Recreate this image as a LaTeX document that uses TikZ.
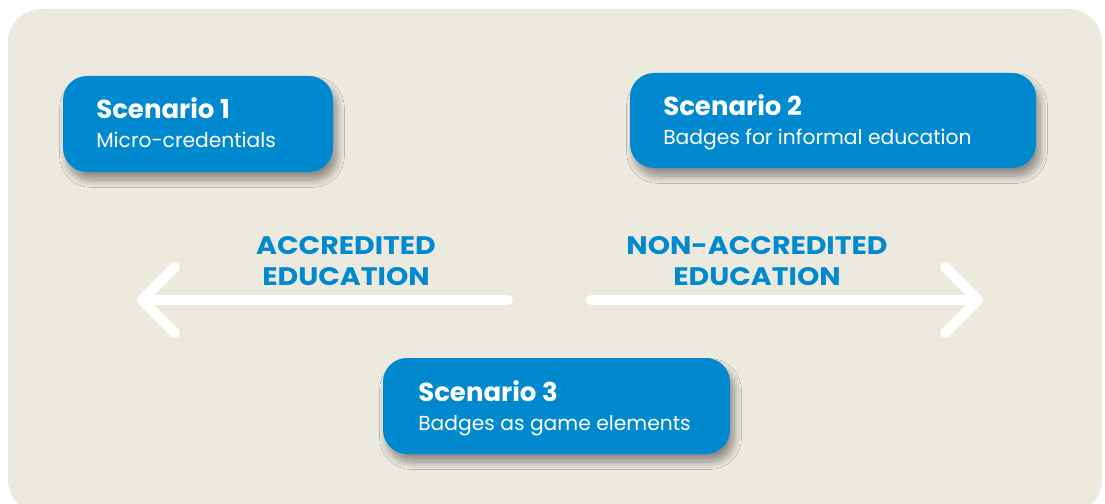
\documentclass[tikz,border=0pt]{standalone}
\usepackage{fontspec}
\setmainfont{Poppins}
\newfontfamily\edfont[FakeStretch=1.12]{Poppins}
\usetikzlibrary{shadows.blur}
\definecolor{panel}{RGB}{236,233,223}
\definecolor{sblue}{RGB}{0,137,207}
\begin{document}
\begin{tikzpicture}[x=0.75pt,y=-0.75pt,
  card/.style={fill=sblue, rounded corners=18, draw=none,
    blur shadow={shadow xshift=3pt, shadow yshift=-6pt, shadow blur steps=10,
      shadow opacity=40, shadow blur radius=5.5pt}},
  cardtitle/.style={anchor=base west, inner sep=0, text=white, font=\fontsize{19.5}{22}\selectfont\bfseries},
  cardsub/.style={anchor=base west, inner sep=0, text=white, font=\fontsize{15.2}{18}\selectfont},
  edlabel/.style={align=center, inner sep=0, text=sblue, font=\edfont\fontsize{19}{23.5}\selectfont\bfseries},
  whitearrow/.style={draw=white, line width=7.5pt, line cap=round, line join=round}]
  \useasboundingbox (0,0) rectangle (1105,503);
  \fill[white] (0,0) rectangle (1105,503);
  \clip (0,0) rectangle (1105,503);
  \fill[panel, rounded corners=25] (8,9) rectangle (1102,513);

  % scenario cards
  \path[card] (63,76) rectangle (333,172);
  \path[card] (630,73) rectangle (1036,168);
  \path[card] (383,358) rectangle (730,454);

  \node[cardtitle] (t1) at (96,118) {Scenario 1};
  \node[cardsub] (s1) at (96,147) {Micro-credentials};
  \node[cardtitle] (t2) at (663,115) {Scenario 2};
  \node[cardsub] (s2) at (663,144) {Badges for informal education};
  \node[cardtitle] (t3) at (418,401) {Scenario 3};
  \node[cardsub] (s3) at (418,430) {Badges as game elements};

  % direction labels
  \node[edlabel] (acc) at (346,261) {ACCREDITED\\EDUCATION};
  \node[edlabel] (nonacc) at (757,261) {NON-ACCREDITED\\EDUCATION};

  % arrows
  \coordinate (ltail) at (508,300);
  \coordinate (ltip) at (142,300);
  \coordinate (lup) at (175,267);
  \coordinate (ldn) at (175,333);
  \coordinate (rtail) at (591,300);
  \coordinate (rtip) at (978,300);
  \coordinate (rup) at (945,267);
  \coordinate (rdn) at (945,333);
  \draw[whitearrow] (ltail) -- (ltip);
  \draw[whitearrow] (lup) -- (ltip) -- (ldn);
  \draw[whitearrow] (rtail) -- (rtip);
  \draw[whitearrow] (rup) -- (rtip) -- (rdn);
\end{tikzpicture}
\end{document}
